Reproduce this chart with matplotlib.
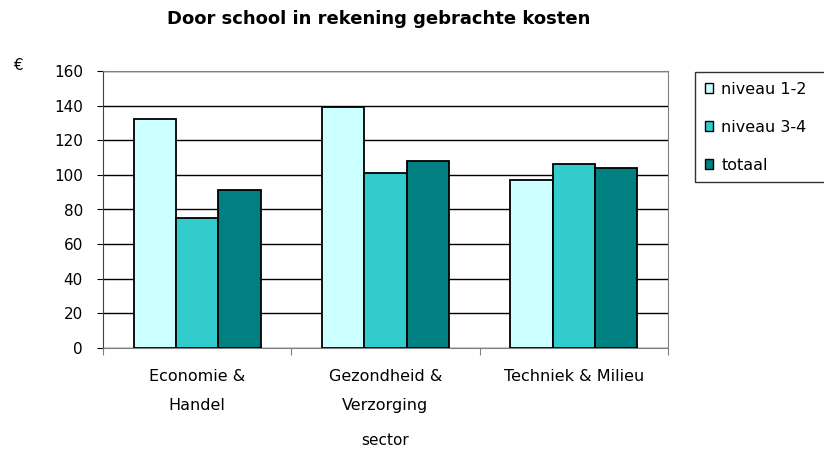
import numpy as np
import matplotlib.pyplot as plt
from matplotlib.patches import Patch

plt.rcParams['font.family'] = ['DejaVu Sans']

sectors = ["Economie &\nHandel", "Gezondheid &\nVerzorging", "Techniek & Milieu"]
series = ["niveau 1-2", "niveau 3-4", "totaal"]
niveau_12 = [132, 139, 97]
niveau_34 = [75, 101, 106.5]
totaal = [91.5, 108, 104]
colors = ["#CCFFFF", "#33CCCC", "#008080"]

fig = plt.figure(figsize=(8.24, 4.61), dpi=100)
ax = fig.add_axes([103 / 824, 1 - 348 / 461, 565 / 824, 277 / 461])

x = np.arange(len(sectors))
width = 0.225
for i, (vals, col) in enumerate(zip([niveau_12, niveau_34, totaal], colors)):
    ax.bar(x + (i - 1) * width, vals, width, color=col, edgecolor="black",
           linewidth=1.3, zorder=3)

ax.set_xlim(-0.5, 2.5)
ax.set_ylim(0, 160)
ax.set_yticks(np.arange(0, 161, 20))
ax.yaxis.grid(True, color="black", linewidth=1, zorder=0)
ax.set_axisbelow(True)

# category labels sit between the boundary ticks
ax.set_xticks([-0.5, 0.5, 1.5, 2.5])
ax.set_xticklabels([])
ax.set_xticks(x, minor=True)
ax.set_xticklabels(sectors, minor=True, fontsize=11.5, linespacing=2.2)
ax.tick_params(axis="x", which="minor", length=0, pad=15)
ax.tick_params(axis="x", which="major", direction="out", length=5, color="#808080")
ax.tick_params(axis="y", direction="out", length=4.5, labelsize=11, pad=10)

for side in ["top", "right"]:
    ax.spines[side].set_color("#808080")
ax.spines["bottom"].set_color("#808080")
ax.spines["left"].set_color("#404040")

ax.set_xlabel("sector", fontsize=11, labelpad=14)
fig.text(379 / 824, 1 - 19 / 461, "Door school in rekening gebrachte kosten",
         fontsize=13, fontweight="bold", ha="center", va="center")
fig.text(13 / 824, 1 - 66 / 461, "€", fontsize=11, va="center")

# legend box runs off the right edge of the figure
handles = [Patch(facecolor=c, edgecolor="black", linewidth=1) for c in colors]
leg = fig.legend(handles, series, loc="upper left",
                 bbox_to_anchor=(695 / 824, 1 - 72 / 461, 140 / 824, 0),
                 mode="expand", borderaxespad=0,
                 fontsize=11.5, frameon=True, fancybox=False, edgecolor="black",
                 handlelength=0.55, handleheight=0.55, handletextpad=0.5,
                 labelspacing=1.45, borderpad=0.6)
leg.get_frame().set_linewidth(1)

fig.savefig("out.png", dpi=100)
